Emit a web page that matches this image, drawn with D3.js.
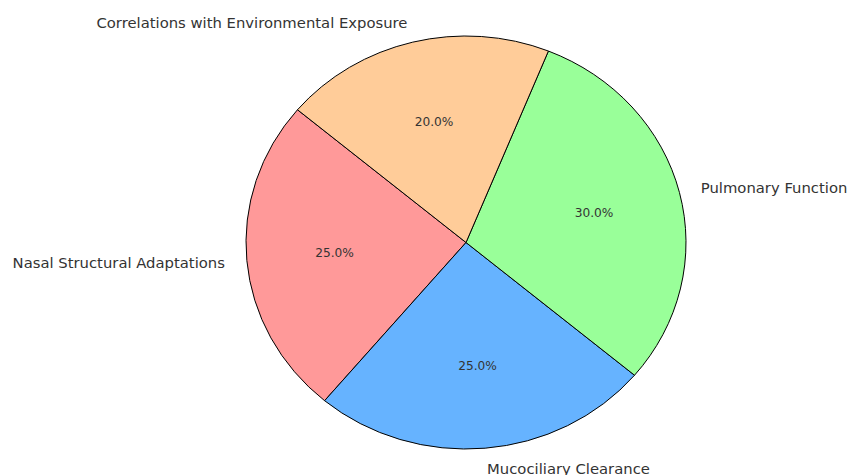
<!DOCTYPE html>
<html lang="en">
    <head>
        <meta charset="utf-8">
        <title>Pie Chart</title>
        <script src="https://cdn.jsdelivr.net/npm/d3@7"></script>
        <style>
            body { margin: 0; background: #fff; }
        </style>
    </head>
    <body>
        <script type="text/javascript">
            // Data
            var categories = ["Nasal Structural Adaptations", "Mucociliary Clearance", "Pulmonary Function", "Correlations with Environmental Exposure"];
            var values = [25, 25, 30, 20];
            var colors = ["#ff9999", "#66b3ff", "#99ff99", "#ffcc99"];

            // Size
            var w = 849;
            var h = 475;
            var cx = 466, cy = 242.5;
            var rx = 220, ry = 206.5;
            var startAngle = 140; // degrees, counter-clockwise from 3 o'clock

            var svg = d3.select("body")
                        .append("svg")
                        .attr("width", w)
                        .attr("height", h)
                        .style("font-family", "'DejaVu Sans', sans-serif");

            var pie = d3.pie()
                        .sort(null)
                        .value(function(d) { return d; })
                        .startAngle(0)
                        .endAngle(2 * Math.PI);
            var arcs = pie(values);
            var total = d3.sum(values);

            // turn the pie angle into a ccw angle from the start (radians)
            function mplAngle(a) {
                return startAngle * Math.PI / 180 + a;
            }
            function midAngle(d) {
                return mplAngle((d.startAngle + d.endAngle) / 2);
            }

            var g = svg.append("g")
                       .attr("transform", "translate(" + cx + "," + cy + ") scale(" + rx + "," + ry + ")");

            // Create slices (counter-clockwise, like matplotlib)
            g.selectAll("path")
                .data(arcs)
                .enter()
                .append("path")
                .attr("d", function(d) {
                    var p = d3.path();
                    var a0 = mplAngle(d.startAngle), a1 = mplAngle(d.endAngle);
                    p.moveTo(0, 0);
                    p.lineTo(Math.cos(a0), -Math.sin(a0));
                    p.arc(0, 0, 1, -a0, -a1, true);
                    p.closePath();
                    return p.toString();
                })
                .attr("fill", function(d, i) { return colors[i]; })
                .attr("stroke", "#000")
                .attr("stroke-width", 1)
                .attr("vector-effect", "non-scaling-stroke");

            // Category labels
            svg.selectAll("text.label")
                .data(arcs)
                .enter()
                .append("text")
                .attr("class", "label")
                .attr("x", function(d) { return cx + 1.1 * rx * Math.cos(midAngle(d)); })
                .attr("y", function(d) { return cy - 1.1 * ry * Math.sin(midAngle(d)); })
                .attr("text-anchor", function(d) {
                    return Math.cos(midAngle(d)) < 0 ? "end" : "start";
                })
                .attr("dominant-baseline", "central")
                .attr("font-size", 14.8)
                .attr("fill", "#333")
                .text(function(d, i) { return categories[i]; });

            // Percent labels
            svg.selectAll("text.pct")
                .data(arcs)
                .enter()
                .append("text")
                .attr("class", "pct")
                .attr("x", function(d) { return cx + 0.6 * rx * Math.cos(midAngle(d)); })
                .attr("y", function(d) { return cy - 0.6 * ry * Math.sin(midAngle(d)); })
                .attr("text-anchor", "middle")
                .attr("dominant-baseline", "central")
                .attr("font-size", 12.2)
                .attr("fill", "#333")
                .text(function(d) { return (d.value / total * 100).toFixed(1) + "%"; });
        </script>
    </body>
</html>
